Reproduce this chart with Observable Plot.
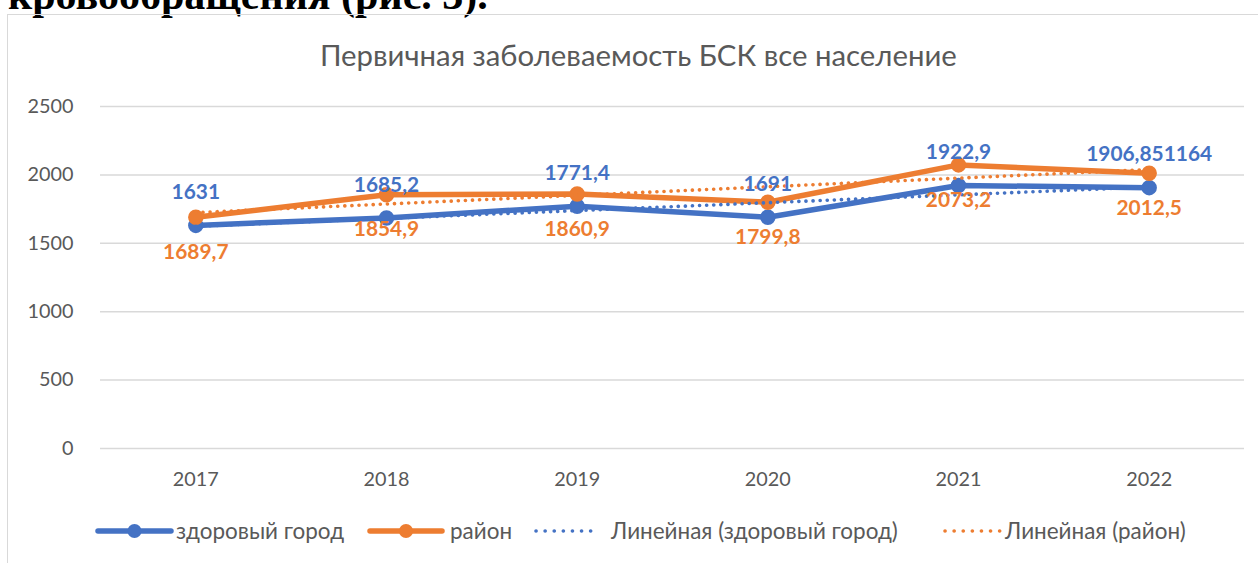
<!DOCTYPE html>
<html>
<head>
<meta charset="utf-8">
<script src="https://cdn.jsdelivr.net/npm/d3@7"></script>
<script src="https://cdn.jsdelivr.net/npm/@observablehq/plot@0.6"></script>
<style>
  html, body { margin: 0; padding: 0; background: #fff; }
  body { width: 1258px; height: 563px; overflow: hidden; position: relative; font-family: Lato, "Open Sans", sans-serif; }
  #doc { position: absolute; left: 0; top: 0; }
  #frame { position: absolute; left: 7px; top: 14px; width: 1300px; height: 620px; border: 1.5px solid #d9d9d9; box-sizing: border-box; }
  #title { position: absolute; left: 320px; top: 40px; color: #595959; white-space: nowrap; line-height: 30px; }
  #chart { position: absolute; left: 0; top: 90px; }
  .lg { position: absolute; top: 516px; height: 30px; line-height: 30px; color: #595959; white-space: nowrap; }
  .sw { position: absolute; top: 516px; }
</style>
</head>
<body>
<svg id="doc" width="700" height="20"><text id="doctext" x="8" y="9" font-family="Liberation Serif" font-weight="bold" fill="#000"></text></svg>
<div id="frame"></div>
<div id="title"></div>
<div id="chart"></div>
<div id="legend"></div>
<script>
// ---- data ----
const years = [2017, 2018, 2019, 2020, 2021, 2022];
const cityValues = [1631, 1685.2, 1771.4, 1691, 1922.9, 1906.851164];
const districtValues = [1689.7, 1854.9, 1860.9, 1799.8, 2073.2, 2012.5];
const yTicks = [0, 500, 1000, 1500, 2000, 2500];
const seriesNames = ["здоровый город", "район"];
const trendNames = ["Линейная (здоровый город)", "Линейная (район)"];
const titleText = "Первичная заболеваемость БСК все население";
const docText = "кровообращения (рис. 3).";

const BLUE = "#4472C4", ORANGE = "#ED7D31", GREY = "#595959";

// ---- text fitting helper ----
const cv = document.createElement("canvas").getContext("2d");
function fitSize(text, family, weight, target) {
  cv.font = `${weight} 100px ${family}`;
  const w = cv.measureText(text).width;
  return 100 * target / w;
}
const FAM = "Lato";

// document fragment text above the chart (cut off at the top edge, as in the source)
const dt = document.getElementById("doctext");
dt.textContent = docText;
dt.setAttribute("font-size", fitSize(docText, "'Liberation Serif'", "bold", 480).toFixed(2));

// title
const title = document.getElementById("title");
title.textContent = titleText;
title.style.fontSize = fitSize(titleText, FAM, "normal", 637).toFixed(2) + "px";

// tables
const city = years.map((y, i) => ({year: y, value: cityValues[i], label: String(cityValues[i]).replace(".", ",")}));
const district = years.map((y, i) => ({year: y, value: districtValues[i], label: String(districtValues[i]).replace(".", ",")}));

const tickSize = fitSize("2017", FAM, "normal", 46);
const labelSize = fitSize("1906,851164", FAM, "bold", 126);

const chart = Plot.plot({
  width: 1258,
  height: 400,
  marginLeft: 100,
  marginRight: 14,
  marginTop: 16,
  marginBottom: 42,
  style: {fontFamily: FAM, fontSize: tickSize + "px", color: GREY, background: "transparent"},
  x: {type: "linear", domain: [2016.5, 2022.5], ticks: years, tickFormat: "d", tickSize: 0, tickPadding: 23, label: null},
  y: {domain: [0, 2500], ticks: yTicks, tickFormat: "d", tickSize: 0, tickPadding: 27, label: null},
  marks: [
    Plot.ruleY(yTicks, {stroke: "#d9d9d9", strokeWidth: 1.5}),
    Plot.line(city, {x: "year", y: "value", stroke: BLUE, strokeWidth: 5.5, strokeLinejoin: "round"}),
    Plot.line(district, {x: "year", y: "value", stroke: ORANGE, strokeWidth: 5.5, strokeLinejoin: "round"}),
    Plot.dot(city, {x: "year", y: "value", r: 7, fill: BLUE, stroke: BLUE}),
    Plot.dot(district, {x: "year", y: "value", r: 7, fill: ORANGE, stroke: ORANGE}),
    Plot.linearRegressionY(city, {x: "year", y: "value", ci: 0, stroke: BLUE, strokeWidth: 3.6, strokeDasharray: "0.1 7", strokeLinecap: "round"}),
    Plot.linearRegressionY(district, {x: "year", y: "value", ci: 0, stroke: ORANGE, strokeWidth: 3.6, strokeDasharray: "0.1 7", strokeLinecap: "round"}),
    Plot.text(city, {x: "year", y: "value", text: "label", dy: -33, fill: BLUE, fontWeight: "bold", fontSize: labelSize}),
    Plot.text(district, {x: "year", y: "value", text: "label", dy: 35, fill: ORANGE, fontWeight: "bold", fontSize: labelSize})
  ]
});
document.getElementById("chart").appendChild(chart);

// ---- legend ----
const legend = document.getElementById("legend");
const items = [
  {name: seriesNames[0], color: BLUE, kind: "line", x0: 98, x1: 171, tx: 176},
  {name: seriesNames[1], color: ORANGE, kind: "line", x0: 370, x1: 442, tx: 450},
  {name: trendNames[0], color: BLUE, kind: "dots", x0: 536, x1: 599, tx: 611},
  {name: trendNames[1], color: ORANGE, kind: "dots", x0: 945, x1: 1000, tx: 1005}
];
const legendSize = fitSize(items[2].name, FAM, "normal", 287);
for (const it of items) {
  const w = it.x1 - it.x0 + 10;
  const s = d3.create("svg").attr("class", "sw").attr("width", w).attr("height", 30)
    .style("left", (it.x0 - 5) + "px");
  if (it.kind === "line") {
    s.append("line").attr("x1", 5).attr("x2", w - 5).attr("y1", 15).attr("y2", 15)
      .attr("stroke", it.color).attr("stroke-width", 5.5).attr("stroke-linecap", "round");
    s.append("circle").attr("cx", w / 2).attr("cy", 15).attr("r", 7).attr("fill", it.color);
  } else {
    s.append("line").attr("x1", 5).attr("x2", w - 5).attr("y1", 15).attr("y2", 15)
      .attr("stroke", it.color).attr("stroke-width", 3.6).attr("stroke-linecap", "round")
      .attr("stroke-dasharray", "0.1 9");
  }
  legend.appendChild(s.node());
  const t = document.createElement("div");
  t.className = "lg";
  t.style.left = it.tx + "px";
  t.style.fontSize = legendSize.toFixed(2) + "px";
  t.textContent = it.name;
  legend.appendChild(t);
}
</script>
</body>
</html>
